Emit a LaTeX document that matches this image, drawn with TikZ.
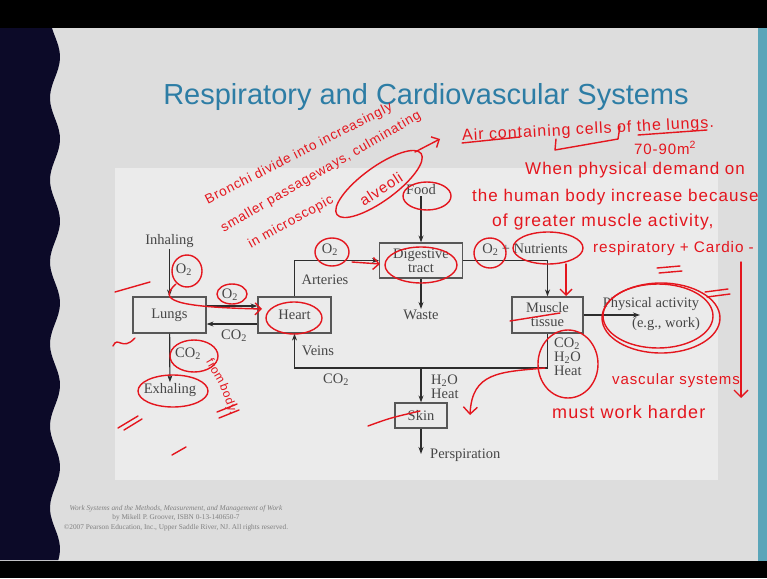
\documentclass[tikz,border=0pt]{standalone}
\usepackage{fontspec}
\setmainfont{Liberation Serif}
\newfontfamily\titlefont{Liberation Sans}
\newfontfamily\handfont{Liberation Sans}[LetterSpace=6]
\usetikzlibrary{arrows.meta}
\usetikzlibrary{graphs}
\definecolor{slidegray}{RGB}{221,221,221}
\definecolor{panelgray}{RGB}{235,235,235}
\definecolor{navy}{RGB}{12,10,40}
\definecolor{stripteal}{RGB}{90,165,185}
\definecolor{titleblue}{RGB}{45,125,165}
\definecolor{inkgray}{RGB}{70,70,70}
\definecolor{linegray}{RGB}{45,45,45}
\definecolor{penred}{RGB}{228,22,30}
\tikzset{
  box/.style= {draw=linegray!80, line width=1.2pt, minimum width=73pt, minimum height=36pt, align=center, inner sep=1pt, text=inkgray},
  lbl/.style= {text=inkgray, inner sep=1pt},
  flow/.style= {draw=linegray, line width=1.2pt},
  note/.style= {text=penred, inner sep=0pt, font=\handfont\fontsize{#1}{#1}\selectfont},
  note/.default=17,
  ring/.style= {draw=penred, line width=1.4pt},
  pen/.style= {draw=penred, line width=1.4pt, line cap=round, line join=round},
}

\begin{document}
\begin{tikzpicture}[x=1pt, y=-1pt, >={Stealth[length=7pt,width=5pt]}, font=\fontsize{14.5}{14}\selectfont]
  \useasboundingbox (0,0) rectangle (767,578);
  % slide
  \fill[slidegray] (0,0) rectangle (767,578);
  \fill[panelgray] (115,168) rectangle (718,480);
  \node [text=gray, font=\fontsize{7.3}{9.5}\selectfont, align=center] (credit) at (176,518)
    {\textit{Work Systems and the Methods, Measurement, and Management of Work}\\
     by Mikell P. Groover, ISBN 0-13-140650-7\\
     \copyright 2007 Pearson Education, Inc., Upper Saddle River, NJ. All rights reserved.};
  \fill[navy] (0,28) -- plot[domain=28:560, samples=120, variable=\t] ({55+5*cos(4.39*(\t-57))}, \t) -- (0,560) -- cycle;
  \fill[black] (0,0) rectangle (767,28);
  \fill[black] (0,561) rectangle (767,578);
  \fill[stripteal] (758,28) rectangle (767,561);
  \node [text=titleblue, font=\titlefont\fontsize{29}{29}\selectfont] (title) at (426,97) {Respiratory and Cardiovascular Systems};

  % boxes
  \node [box] (lungs) at (169.5,315) {Lungs};
  \node [box] (heart) at (294.5,315) {Heart};
  \node [box, minimum width=83pt, minimum height=35pt] (digest) at (421,260.5) {Digestive\\tract};
  \node [box, minimum width=71pt] (muscle) at (547.5,315) {Muscle\\tissue};
  \node [box, minimum width=52pt, minimum height=25pt] (skin) at (421,415.5) {Skin};

  % labels
  \node [lbl] (inhale) at (169.5,241) {Inhaling};
  \node [lbl] (exhale) at (170,390) {Exhaling};
  \node [lbl] (food) at (421,190) {Food};
  \node [lbl] (waste) at (421,315) {Waste};
  \node [lbl] (o2in) at (184,270) {O\textsubscript{2}};
  \node [lbl] (o2lh) at (230,295) {O\textsubscript{2}};
  \node [lbl] (co2hl) at (234,336) {CO\textsubscript{2}};
  \node [lbl] (co2out) at (188,354) {CO\textsubscript{2}};
  \node [lbl] (o2art) at (330,250) {O\textsubscript{2}};
  \node [lbl] (arteries) at (325,280) {Arteries};
  \node [lbl] (veins) at (318,351) {Veins};
  \node [lbl] (co2vein) at (336,380) {CO\textsubscript{2}};
  \node [lbl] (nutri) at (525,250) {O\textsubscript{2} + Nutrients};
  \node [lbl, align=left, anchor=west] (byprod) at (553,357) {CO\textsubscript{2}\\H\textsubscript{2}O\\Heat};
  \node [lbl, align=left, anchor=west] (skinout) at (430,386.5) {H\textsubscript{2}O\\Heat};
  \node [lbl, anchor=west] (persp) at (429,455) {Perspiration};
  \node [lbl] (physact) at (651,304) {Physical activity};
  \node [lbl] (eg) at (666,324) {(e.g., work)};

  \coordinate (veinjoin) at (294.5,368);
  \coordinate (skinjoin) at (421,368);
  \coordinate (sweat) at (421,454);
  \coordinate (workend) at (640,315);

  \graph {
    { [edges={flow}] (inhale) -> (lungs) -> (exhale) } ;
    { [edges={flow}] (food) -> (digest) -> (waste) } ;
    { [edges={flow}] (skinjoin) -> (skin) -> (sweat) } ;
    { [edges={flow}] (muscle) -> (workend) } ;
  } ;
  \draw [flow, ->] ([yshift=9pt]lungs.east) -- ([yshift=9pt]heart.west);
  \draw [flow, ->] ([yshift=-9pt]heart.west) -- ([yshift=-9pt]lungs.east);
  \draw [flow, ->] (heart.north) |- (digest.west);
  \draw [flow, ->] (digest.east) -| (muscle.north);
  \draw [flow, ->] (muscle.south) |- (veinjoin) -- (heart.south);

  % red handwriting
  \node [note=13.5, rotate=27] (bronchi) at (299,154) {Bronchi divide into increasingly};
  \node [note=13.5, rotate=30] (smaller) at (321,172) {smaller passageways, culminating};
  \node [note=13.5, rotate=29] (micro) at (291,222) {in microscopic};
  \node [note=15, rotate=33] (alveoli) at (381,189) {alveoli};
  \node [note=16, rotate=3] (aircells) at (588,130) {Air containing cells of the lungs.};
  \node [note=15] (area) at (665,148) {70-90m\textsuperscript{2}};
  \node [note, anchor=west] (when) at (525,170) {When physical demand on};
  \node [note, anchor=west] (human) at (472,197) {the human body increase because};
  \node [note=17.5, anchor=west] (greater) at (492,222) {of greater muscle activity,};
  \node [note=15.3, anchor=west] (cardio) at (593,249) {respiratory + Cardio -};
  \node [note=15, anchor=west] (vascular) at (612,381) {vascular systems};
  \node [note=18, anchor=west] (harder) at (552,412) {must work harder};
  \node [note=12, rotate=-60] (fromw) at (216,371) {from};
  \node [note=12, rotate=-70] (bodyw) at (228,399) {body.};

  \draw [ring] (427,196) ellipse [x radius=24, y radius=14];
  \draw [ring] (421,265) ellipse [x radius=36, y radius=18];
  \draw [ring] (490,253) ellipse [x radius=16, y radius=15];
  \draw [ring] (548,248) ellipse [x radius=35, y radius=16];
  \draw [ring] (661,318) ellipse [x radius=59, y radius=35];
  \draw [ring] (658,316) ellipse [x radius=55, y radius=32];
  \draw [ring] (568,364) ellipse [x radius=30, y radius=34];
  \draw [ring] (294,318) ellipse [x radius=28, y radius=16];
  \draw [ring] (173,391) ellipse [x radius=35, y radius=16];
  \draw [ring] (194,356) ellipse [x radius=24, y radius=16];
  \draw [ring] (187,271) ellipse [x radius=15, y radius=16];
  \draw [ring] (232,294) ellipse [x radius=15, y radius=10];
  \draw [ring] (332,252) ellipse [x radius=17, y radius=14];
  \draw [ring, rotate around={36:(379,184)}] (379,184) ellipse [x radius=52, y radius=17];

  \draw [pen, -{Straight Barb[length=6pt]}] (415,152) -- (440,139);
  \draw [pen, -{Straight Barb[length=6pt]}] (566,264) -- (566,296);
  \draw [pen, -{Straight Barb[length=7pt]}] (741,262) -- (741,398);
  \draw [pen, -{Straight Barb[length=7pt]}] (545,368) .. controls (500,372) and (472,372) .. (470,415);
  \draw [pen, -{Straight Barb[length=6pt]}] (176,284) .. controls (158,300) and (172,307) .. (262,309);
  \draw [pen, -{Straight Barb[length=6pt]}] (352,262) -- (380,264);
  \draw [pen] (510,321) -- (560,313);
  \draw [pen] (368,426) .. controls (390,418) .. (420,411);
  \draw [pen] (462,143) -- (520,137);
  \draw [pen] (556,139) -- (555,150) -- (618,139) -- (620,126);
  \draw [pen] (638,135) -- (707,130);
  \draw [pen] (705,292) -- (728,289);
  \draw [pen] (707,297) -- (730,294);
  \draw [pen] (657,268) -- (680,266);
  \draw [pen] (659,273) -- (682,271);
  \draw [pen] (118,428) -- (138,416);
  \draw [pen] (124,430) -- (142,419);
  \draw [pen] (172,455) -- (186,447);
  \draw [pen] (217,412) -- (237,404);
  \draw [pen] (219,418) -- (239,410);
  \draw [pen] (113,346) .. controls (118,335) and (122,352) .. (135,338);
  \draw [pen] (115,292) -- (150,282);
\end{tikzpicture}
\end{document}
